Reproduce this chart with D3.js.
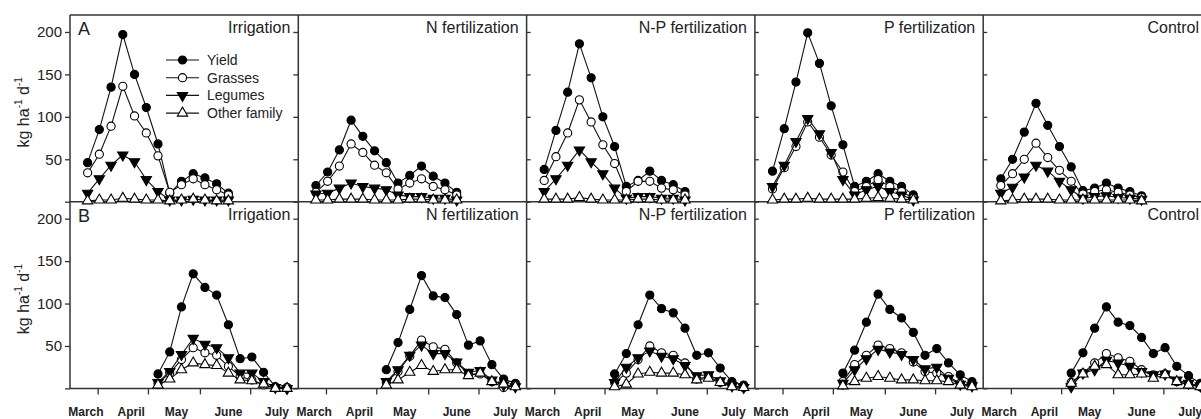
<!DOCTYPE html>
<html lang="en">
  <head>
    <meta charset="UTF-8">
    <script type="text/javascript" src="https://cdn.jsdelivr.net/npm/d3@7"></script>
    <style>
      body { margin: 0; background: #fff; }
      svg { display: block; }
      .axis path { display: none; }
      .axis line { stroke: #333; stroke-width: 1.3; }
      .axis text {
        font-family: 'Liberation Sans', Arial, sans-serif;
        font-size: 15px;
        fill: #222;
      }
      .frame { stroke: #333; stroke-width: 1.5; fill: none; }
      .txt { font-family: 'Liberation Sans', Arial, sans-serif; fill: #222; }
    </style>
    <title>Daily growth rates</title>
  </head>
  <body>
    <script type="text/javascript">
      // Panels and series
      let panels = ['Irrigation', 'N fertilization', 'N-P fertilization', 'P fertilization', 'Control'];
      let rowNames = ['A', 'B'];
      let seriesNames = ['Yield', 'Grasses', 'Legumes', 'Other family'];

      // Sampling dates (day of year)
      let datesA = [85, 92, 99, 106, 113, 120, 127, 134, 141, 148, 155, 162, 169];
      let datesB = [127, 134, 141, 148, 155, 162, 169, 176, 183, 190, 197, 204];

      // Axis ticks
      let yTicks = [0, 50, 100, 150, 200];
      let monthTicks = [91, 121, 152, 182];
      let monthLabels = ['March', 'April', 'May', 'June', 'July'];
      let monthLabelDays = [84, 111, 138, 169, 198];

      // Row A (kg ha-1 d-1), one array per panel
      let yieldA = [
        [46, 85, 135, 197, 150, 111, 68, 10, 24, 33, 28, 21, 10],
        [19, 35, 61, 96, 77, 60, 46, 22, 31, 42, 30, 22, 11],
        [38, 84, 129, 186, 146, 100, 65, 18, 25, 36, 25, 20, 12],
        [36, 86, 141, 199, 163, 113, 67, 18, 24, 33, 24, 18, 8],
        [27, 50, 82, 116, 90, 65, 41, 13, 16, 22, 16, 12, 7]
      ];
      let grassesA = [
        [34, 56, 89, 136, 101, 81, 54, 11, 20, 27, 20, 14, 8],
        [11, 24, 42, 68, 58, 43, 34, 15, 22, 27, 18, 14, 8],
        [25, 53, 81, 120, 94, 67, 45, 12, 24, 24, 16, 14, 8],
        [15, 40, 65, 94, 76, 55, 35, 12, 18, 26, 18, 12, 4],
        [19, 33, 50, 69, 52, 37, 24, 9, 12, 14, 11, 8, 5]
      ];
      let legumesA = [
        [10, 27, 43, 55, 47, 26, 12, 2, 2, 3, 2, 2, 2],
        [9, 10, 16, 22, 18, 16, 14, 8, 6, 6, 4, 4, 2],
        [12, 27, 43, 61, 47, 33, 16, 4, 6, 6, 4, 4, 2],
        [18, 43, 71, 98, 80, 58, 26, 8, 14, 18, 12, 8, 2],
        [10, 17, 29, 43, 36, 24, 14, 4, 6, 7, 5, 4, 3]
      ];
      let otherA = [
        [1, 2, 2, 4, 3, 2, 2, 1, 2, 3, 2, 1, 1],
        [2, 2, 3, 3, 3, 2, 2, 2, 3, 3, 2, 2, 2],
        [3, 3, 3, 5, 3, 2, 2, 2, 3, 3, 2, 2, 2],
        [2, 3, 3, 4, 3, 3, 3, 3, 4, 5, 4, 3, 2],
        [1, 2, 3, 3, 3, 2, 2, 2, 2, 2, 2, 2, 1]
      ];

      // Row B
      let yieldB = [
        [17, 43, 96, 135, 119, 110, 75, 35, 37, 19, 2, 1],
        [22, 54, 93, 133, 109, 107, 87, 51, 56, 28, 11, 6],
        [17, 41, 75, 110, 94, 89, 71, 39, 42, 24, 8, 4],
        [18, 45, 78, 111, 93, 83, 66, 39, 47, 30, 16, 8],
        [18, 42, 71, 96, 78, 74, 60, 41, 48, 26, 15, 6]
      ];
      let grassesB = [
        [6, 18, 34, 48, 42, 39, 26, 14, 10, 4, 1, 1],
        [7, 20, 38, 57, 49, 46, 30, 17, 17, 8, 1, 3],
        [7, 18, 34, 50, 42, 39, 30, 11, 14, 7, 3, 1],
        [8, 28, 39, 51, 47, 42, 31, 20, 18, 14, 6, 3],
        [7, 18, 30, 41, 36, 32, 22, 16, 17, 8, 5, 2]
      ];
      let legumesB = [
        [7, 20, 40, 59, 52, 48, 36, 18, 18, 8, 1, 0],
        [8, 22, 39, 51, 41, 41, 31, 19, 21, 10, 4, 2],
        [7, 25, 36, 44, 38, 35, 27, 15, 16, 9, 3, 1],
        [6, 22, 35, 46, 43, 40, 34, 23, 25, 12, 5, 3],
        [2, 18, 22, 33, 30, 26, 20, 16, 17, 10, 6, 3]
      ];
      let otherB = [
        [4, 11, 22, 30, 28, 27, 18, 10, 9, 5, 0, 0],
        [4, 10, 19, 27, 20, 22, 22, 15, 18, 8, 5, 2],
        [2, 5, 17, 19, 18, 18, 16, 10, 12, 7, 2, 1],
        [3, 8, 12, 14, 12, 10, 10, 9, 9, 8, 4, 2],
        [6, 17, 26, 28, 16, 16, 17, 12, 16, 8, 4, 2]
      ];

      let rows = [
        { dates: datesA, series: [yieldA, grassesA, legumesA, otherA] },
        { dates: datesB, series: [yieldB, grassesB, legumesB, otherB] }
      ];

      // Layout
      let w = 1201, h = 419;
      let plotLeft = 70, panelW = 228.3;
      let plotTop = 15, rowH = 186.7;

      let svg = d3.select('body').append('svg')
                  .attr('width', w)
                  .attr('height', h);

      let yScales = rows.map((r, i) => d3.scaleLinear()
                      .domain([0, 220])
                      .range([plotTop + rowH * (i + 1), plotTop + rowH * i]));
      let xScales = panels.map((p, j) => d3.scaleLinear()
                      .domain([74.5, 210.7])
                      .range([plotLeft + panelW * j, plotLeft + panelW * (j + 1)]));

      // marker styles per series
      let markers = [
        { type: d3.symbolCircle, size: 52, fill: '#000', rot: 0 },
        { type: d3.symbolCircle, size: 52, fill: '#fff', rot: 0 },
        { type: d3.symbolTriangle, size: 46, fill: '#000', rot: 180 },
        { type: d3.symbolTriangle, size: 46, fill: '#fff', rot: 0 }
      ];

      // y axes
      rows.forEach((r, i) => {
        panels.forEach((p, j) => {
          let x0 = xScales[j].range()[0];
          let axis = (j < 2 ? d3.axisLeft(yScales[i]).tickSize(5) : d3.axisRight(yScales[i]).tickSize(4))
                      .tickValues(yTicks)
                      .tickFormat(d => (j === 0 && d > 0) ? d : '');
          svg.append('g')
              .attr('class', 'axis')
              .attr('transform', 'translate(' + x0 + ',0)')
              .call(axis);
        });
      });

      // x axes (bottom row only)
      panels.forEach((p, j) => {
        svg.append('g')
            .attr('class', 'axis')
            .attr('transform', 'translate(0,' + yScales[1].range()[0] + ')')
            .call(d3.axisBottom(xScales[j]).tickValues(monthTicks).tickSize(6).tickFormat(''));

        svg.selectAll(null)
            .data(monthLabels)
            .enter()
            .append('text')
            .attr('class', 'txt')
            .attr('x', (d, k) => xScales[j](monthLabelDays[k]))
            .attr('y', 416)
            .attr('text-anchor', 'middle')
            .attr('font-size', '12px')
            .attr('font-weight', 'bold')
            .text(d => d);
      });

      // frame lines
      let plotRight = plotLeft + panelW * panels.length;
      [plotTop, plotTop + rowH, plotTop + rowH * 2].forEach(y => {
        svg.append('line').attr('class', 'frame')
            .attr('x1', plotLeft).attr('x2', plotRight).attr('y1', y).attr('y2', y);
      });
      for (let j = 0; j <= panels.length; j++) {
        let x = plotLeft + panelW * j;
        svg.append('line').attr('class', 'frame')
            .attr('x1', x).attr('x2', x).attr('y1', plotTop).attr('y2', plotTop + rowH * 2);
      }

      // data
      let line = d3.line();
      rows.forEach((r, i) => {
        let y = yScales[i];
        panels.forEach((p, j) => {
          let x = xScales[j];
          r.series.forEach((s, k) => {
            let pts = s[j].map((v, n) => [x(r.dates[n]), y(v)]);
            svg.append('path')
                .attr('d', line(pts))
                .attr('fill', 'none')
                .attr('stroke', '#111')
                .attr('stroke-width', 1.1);
            let m = markers[k];
            svg.selectAll(null)
                .data(pts)
                .enter()
                .append('path')
                .attr('d', d3.symbol().type(m.type).size(m.size))
                .attr('transform', d => 'translate(' + d[0] + ',' + d[1] + ') rotate(' + m.rot + ')')
                .attr('fill', m.fill)
                .attr('stroke', '#000')
                .attr('stroke-width', 1.1);
          });

          // panel titles (last one kept inside the window)
          svg.append('text')
              .attr('class', 'txt')
              .attr('x', Math.min(x.range()[1] - 8, w - 2))
              .attr('y', y.range()[1] + 18)
              .attr('text-anchor', 'end')
              .attr('font-size', '16px')
              .text(p);
        });

        // row letter
        svg.append('text')
            .attr('class', 'txt')
            .attr('x', 78)
            .attr('y', y.range()[1] + 20)
            .attr('font-size', '18px')
            .text(rowNames[i]);

        // y label
        let yl = svg.append('text')
            .attr('class', 'txt')
            .attr('transform', 'translate(29,' + (y.range()[1] + rowH / 2 + 4) + ') rotate(-90)')
            .attr('text-anchor', 'middle')
            .attr('font-size', '16px');
        yl.append('tspan').text('kg ha');
        yl.append('tspan').attr('font-size', '10px').attr('dy', -7).text('-1');
        yl.append('tspan').attr('dy', 7).text(' d');
        yl.append('tspan').attr('font-size', '10px').attr('dy', -7).text('-1');
      });

      // legend
      let legend = svg.append('g').attr('transform', 'translate(166,60)');
      seriesNames.forEach((name, k) => {
        let g = legend.append('g').attr('transform', 'translate(0,' + (k * 17.7) + ')');
        g.append('line').attr('x1', 0).attr('x2', 33)
            .attr('stroke', '#111').attr('stroke-width', 1.1);
        let m = markers[k];
        g.append('path')
            .attr('d', d3.symbol().type(m.type).size(m.size))
            .attr('transform', 'translate(16.5,0) rotate(' + m.rot + ')')
            .attr('fill', m.fill)
            .attr('stroke', '#000')
            .attr('stroke-width', 1.1);
        g.append('text')
            .attr('class', 'txt')
            .attr('x', 41)
            .attr('y', 5)
            .attr('font-size', '14px')
            .text(name);
      });
    </script>
  </body>
</html>
